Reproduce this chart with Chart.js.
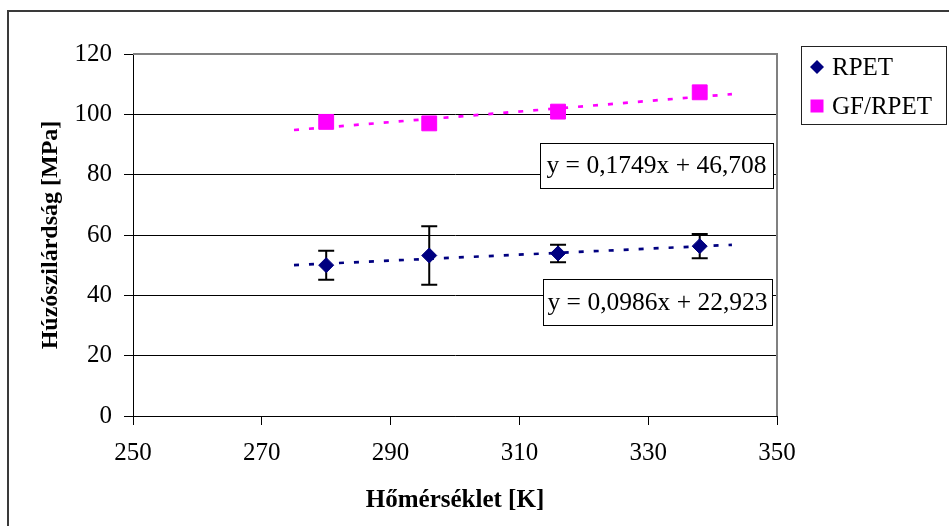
<!DOCTYPE html>
<html>
<head>
<meta charset="utf-8">
<title>Húzószilárdság</title>
<script src="https://cdn.jsdelivr.net/npm/chart.js@4/dist/chart.umd.min.js"></script>
<style>
  html, body { margin: 0; padding: 0; background: #ffffff; }
  #wrap { width: 949px; height: 526px; position: relative; }
</style>
</head>
<body>
<div id="wrap"><canvas id="c" width="949" height="526"></canvas></div>
<script>
// Measured tensile strength vs. temperature
const temperatures = [280, 296, 316, 338];
const rpetStrength = [50.0, 53.2, 53.9, 56.3];
const rpetError = [4.8, 9.7, 2.9, 4.0];
const gfStrength = [97.5, 97.0, 100.9, 107.3];
const seriesNames = ['RPET', 'GF/RPET'];

// Linear trendlines (slope, intercept) and the span they are drawn over
const trendSlopes = [0.0986, 0.1749];
const trendIntercepts = [22.923, 46.708];
const trendRange = [275, 343];

// Axis ticks
const xTicks = [250, 270, 290, 310, 330, 350];
const yTicks = [0, 20, 40, 60, 80, 100, 120];

const SERIF = '"Liberation Serif", "Times New Roman", serif';
const NAVY = '#000080';
const MAGENTA = '#ff00ff';

function trendPoints(i) {
  return trendRange.map(x => ({ x: x, y: trendSlopes[i] * x + trendIntercepts[i] }));
}
function fmt(v, d) { return v.toFixed(d).replace('.', ','); }

const rpetPoints = temperatures.map((t, i) => ({ x: t, y: rpetStrength[i] }));
const gfPoints = temperatures.map((t, i) => ({ x: t, y: gfStrength[i] }));

const backgroundAndFrame = {
  id: 'backgroundAndFrame',
  beforeDraw(chart) {
    const ctx = chart.ctx;
    ctx.save();
    ctx.fillStyle = '#ffffff';
    ctx.fillRect(0, 0, chart.width, chart.height);
    ctx.strokeStyle = '#3a3a3a';
    ctx.lineWidth = 2;
    ctx.beginPath();
    ctx.moveTo(8, chart.height + 5);
    ctx.lineTo(8, 11);
    ctx.lineTo(chart.width + 5, 11);
    ctx.stroke();
    ctx.restore();
  }
};

const plotBorder = {
  id: 'plotBorder',
  beforeDatasetsDraw(chart) {
    const { ctx, chartArea: a } = chart;
    ctx.save();
    ctx.strokeStyle = '#808080';
    ctx.lineWidth = 2;
    ctx.beginPath();
    ctx.moveTo(a.left, a.top);
    ctx.lineTo(a.right, a.top);
    ctx.lineTo(a.right, a.bottom);
    ctx.stroke();
    ctx.restore();
  }
};

const errorBars = {
  id: 'errorBars',
  beforeDatasetsDraw(chart) {
    const { ctx, scales: { x, y } } = chart;
    ctx.save();
    ctx.strokeStyle = '#000000';
    ctx.lineWidth = 2;
    temperatures.forEach((t, i) => {
      const px = x.getPixelForValue(t);
      const top = y.getPixelForValue(rpetStrength[i] + rpetError[i]);
      const bot = y.getPixelForValue(rpetStrength[i] - rpetError[i]);
      ctx.beginPath();
      ctx.moveTo(px, top); ctx.lineTo(px, bot);
      ctx.moveTo(px - 8, top); ctx.lineTo(px + 8, top);
      ctx.moveTo(px - 8, bot); ctx.lineTo(px + 8, bot);
      ctx.stroke();
    });
    ctx.restore();
  }
};

const equationLabels = {
  id: 'equationLabels',
  afterDatasetsDraw(chart) {
    const { ctx, chartArea: a } = chart;
    const boxes = [
      { i: 1, left: a.left + 407, top: a.top + 89, w: 233, h: 45 },
      { i: 0, left: a.left + 410, top: a.top + 225, w: 229, h: 46 }
    ];
    ctx.save();
    ctx.font = '25.5px ' + SERIF;
    ctx.textAlign = 'center';
    ctx.textBaseline = 'middle';
    boxes.forEach(b => {
      const text = 'y = ' + fmt(trendSlopes[b.i], 4) + 'x + ' + fmt(trendIntercepts[b.i], 3);
      ctx.fillStyle = '#ffffff';
      ctx.fillRect(b.left, b.top, b.w, b.h);
      ctx.strokeStyle = '#000000';
      ctx.lineWidth = 1;
      ctx.strokeRect(b.left + 0.5, b.top + 0.5, b.w, b.h);
      ctx.fillStyle = '#000000';
      ctx.fillText(text, b.left + b.w / 2, b.top + b.h / 2 + 1);
    });
    ctx.restore();
  }
};

const legendBox = {
  id: 'legendBox',
  afterDraw(chart) {
    const ctx = chart.ctx;
    const box = { left: 801, top: 46, w: 145, h: 78 };
    ctx.save();
    ctx.strokeStyle = '#222222';
    ctx.lineWidth = 1;
    ctx.strokeRect(box.left + 0.5, box.top + 0.5, box.w, box.h);
    // RPET diamond
    const mx = box.left + 16;
    let my = box.top + 21;
    ctx.fillStyle = NAVY;
    ctx.beginPath();
    ctx.moveTo(mx - 7, my); ctx.lineTo(mx, my - 7); ctx.lineTo(mx + 7, my); ctx.lineTo(mx, my + 7);
    ctx.closePath(); ctx.fill();
    ctx.font = '25px ' + SERIF;
    ctx.textAlign = 'left';
    ctx.textBaseline = 'middle';
    ctx.fillStyle = '#000000';
    ctx.fillText(seriesNames[0], box.left + 31, my + 1);
    // GF/RPET square
    my = box.top + 60;
    ctx.fillStyle = MAGENTA;
    ctx.fillRect(mx - 6.5, my - 6.5, 13, 13);
    ctx.fillStyle = '#000000';
    ctx.fillText(seriesNames[1], box.left + 31, my + 1);
    ctx.restore();
  }
};

new Chart(document.getElementById('c'), {
  type: 'scatter',
  data: {
    datasets: [
      {
        label: seriesNames[0],
        data: rpetPoints,
        pointStyle: 'rectRot',
        pointRadius: 7.5,
        pointHoverRadius: 7.5,
        backgroundColor: NAVY,
        borderColor: NAVY,
        borderWidth: 1,
        order: 0
      },
      {
        label: seriesNames[1],
        data: gfPoints,
        pointStyle: 'rect',
        pointRadius: 10.5,
        pointHoverRadius: 10.5,
        backgroundColor: MAGENTA,
        borderColor: MAGENTA,
        borderWidth: 1,
        order: 0
      },
      {
        label: seriesNames[0] + ' trend',
        type: 'line',
        data: trendPoints(0),
        borderColor: NAVY,
        borderWidth: 2.7,
        borderDash: [5, 10],
        pointRadius: 0,
        fill: false,
        order: 1
      },
      {
        label: seriesNames[1] + ' trend',
        type: 'line',
        data: trendPoints(1),
        borderColor: MAGENTA,
        borderWidth: 2.7,
        borderDash: [5, 10],
        pointRadius: 0,
        fill: false,
        order: 1
      }
    ]
  },
  options: {
    responsive: false,
    animation: false,
    devicePixelRatio: 1,
    layout: { padding: { top: 54, right: 172, bottom: 0, left: 0 } },
    plugins: {
      legend: { display: false },
      tooltip: { enabled: false }
    },
    scales: {
      x: {
        type: 'linear',
        min: 250,
        max: 350,
        afterBuildTicks(scale) { scale.ticks = xTicks.map(v => ({ value: v })); },
        afterFit(scale) { scale.height = 110; },
        ticks: {
          color: '#000000',
          font: { family: SERIF, size: 25 },
          padding: 13,
          maxRotation: 0
        },
        grid: { drawOnChartArea: false, color: '#000000', tickLength: 9, lineWidth: 1 },
        border: { color: '#000000', width: 1 },
        title: {
          display: true,
          text: 'Hőmérséklet [K]',
          color: '#000000',
          font: { family: SERIF, size: 25, weight: 'bold' },
          padding: { top: 0, bottom: 10 }
        }
      },
      y: {
        type: 'linear',
        min: 0,
        max: 120,
        afterBuildTicks(scale) { scale.ticks = yTicks.map(v => ({ value: v })); },
        afterFit(scale) { scale.width = 133; },
        ticks: {
          color: '#000000',
          font: { family: SERIF, size: 25 },
          padding: 12
        },
        grid: { color: '#000000', tickLength: 9, lineWidth: 1 },
        border: { color: '#000000', width: 1 },
        title: {
          display: true,
          text: 'Húzószilárdság [MPa]',
          color: '#000000',
          font: { family: SERIF, size: 24, weight: 'bold' },
          padding: { top: 36, bottom: 0 }
        }
      }
    }
  },
  plugins: [backgroundAndFrame, plotBorder, errorBars, equationLabels, legendBox]
});
</script>
</body>
</html>
